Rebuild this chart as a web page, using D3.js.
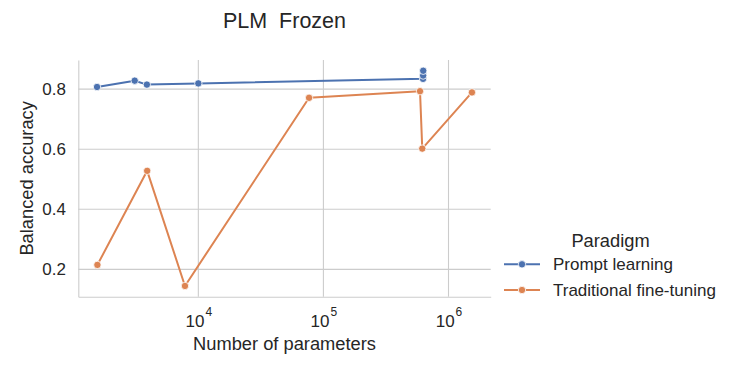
<!DOCTYPE html>
<html>
<head>
<meta charset="utf-8">
<script src="https://cdn.jsdelivr.net/npm/d3@7"></script>
<style>
  body { margin: 0; background: #fff; }
  svg { display: block; font-family: "Liberation Sans", Arial, sans-serif; }
</style>
</head>
<body>
<svg id="chart" width="747" height="374"></svg>
<script>
// ---- data ----
const seriesNames = ["Prompt learning", "Traditional fine-tuning"];
const promptX = [1550, 3100, 3880, 10000, 626000, 627000, 628000];
const promptY = [0.807, 0.828, 0.815, 0.819, 0.834, 0.845, 0.861];
const tradX = [1560, 3900, 7820, 76800, 592000, 617000, 1540000];
const tradY = [0.215, 0.528, 0.145, 0.771, 0.793, 0.602, 0.789];
const xTicks = [1e4, 1e5, 1e6];
const yTicks = [0.2, 0.4, 0.6, 0.8];
const colors = ["#4c72b0", "#dd8452"];
const titleText = "PLM  Frozen";
const xLabel = "Number of parameters";
const yLabel = "Balanced accuracy";
const legendTitle = "Paradigm";

const series = [
  { name: seriesNames[0], pts: promptX.map((x, i) => ({ x, y: promptY[i] })), color: colors[0] },
  { name: seriesNames[1], pts: tradX.map((x, i) => ({ x, y: tradY[i] })), color: colors[1] }
];

const svg = d3.select("#chart");
const L = 78.3, R = 490.7, T = 60, B = 296.7;

const allX = promptX.concat(tradX).map(Math.log10);
const allY = promptY.concat(tradY);
const lx0 = d3.min(allX), lx1 = d3.max(allX), px = (lx1 - lx0) * 0.05;
const y0 = d3.min(allY), y1 = d3.max(allY), py = (y1 - y0) * 0.05;

const x = d3.scaleLog().domain([Math.pow(10, lx0 - px), Math.pow(10, lx1 + px)]).range([L, R]);
const y = d3.scaleLinear().domain([y0 - py, y1 + py]).range([B, T]);

// grid
const grid = svg.append("g");
grid.selectAll(".gx").data(xTicks).join("line")
  .attr("x1", d => x(d)).attr("x2", d => x(d)).attr("y1", T).attr("y2", B)
  .attr("stroke", "#cccccc").attr("stroke-width", 1.1);
grid.selectAll(".gy").data(yTicks).join("line")
  .attr("x1", L).attr("x2", R).attr("y1", d => y(d)).attr("y2", d => y(d))
  .attr("stroke", "#cccccc").attr("stroke-width", 1.1);

// axes
const yAxis = svg.append("g").attr("transform", `translate(${L},0)`)
  .call(d3.axisLeft(y).tickValues(yTicks).tickFormat(d3.format(".1f")).tickSize(0).tickPadding(12.3));
yAxis.select(".domain").attr("stroke", "#cccccc").attr("stroke-width", 1.1);
yAxis.selectAll("text").attr("font-size", 17).attr("fill", "#262626").attr("font-family", "Liberation Sans, Arial, sans-serif");

const xAxis = svg.append("g").attr("transform", `translate(0,${B})`)
  .call(d3.axisBottom(x).tickValues(xTicks).tickFormat(() => "").tickSize(0));
xAxis.select(".domain").attr("stroke", "#cccccc").attr("stroke-width", 1.1);
xAxis.selectAll(".tick text").each(function (d) {
  const t = d3.select(this).attr("dy", null).attr("y", 30.6)
    .attr("font-size", 17).attr("fill", "#262626").attr("font-family", "Liberation Sans, Arial, sans-serif")
    .attr("text-anchor", "middle");
  t.text(null);
  t.append("tspan").text("10");
  t.append("tspan").attr("dx", 1).attr("dy", -11).attr("font-size", 12).text(String(Math.round(Math.log10(d))));
});

// lines and markers
const line = d3.line().x(d => x(d.x)).y(d => y(d.y));
series.forEach(s => {
  svg.append("path").datum(s.pts).attr("d", line)
    .attr("fill", "none").attr("stroke", s.color).attr("stroke-width", 2)
    .attr("stroke-linejoin", "round").attr("stroke-linecap", "round");
});
series.forEach(s => {
  svg.append("g").selectAll("circle").data(s.pts).join("circle")
    .attr("cx", d => x(d.x)).attr("cy", d => y(d.y)).attr("r", 3.7)
    .attr("fill", s.color).attr("stroke", "#fff").attr("stroke-width", 0.8);
});

// title and labels
svg.append("text").attr("x", (L + R) / 2).attr("y", 28).attr("text-anchor", "middle")
  .attr("font-size", 21.5).attr("fill", "#262626").style("white-space", "pre").text(titleText);
svg.append("text").attr("x", (L + R) / 2).attr("y", 350).attr("text-anchor", "middle")
  .attr("font-size", 18.3).attr("fill", "#262626").text(xLabel);
svg.append("text").attr("transform", `translate(33,${(T + B) / 2}) rotate(-90)`).attr("text-anchor", "middle")
  .attr("font-size", 18.3).attr("fill", "#262626").text(yLabel);

// legend
const lg = svg.append("g");
lg.append("text").attr("x", 610.5).attr("y", 246.7).attr("text-anchor", "middle")
  .attr("font-size", 18.3).attr("fill", "#262626").text(legendTitle);
const legY = [264.3, 290];
series.forEach((s, i) => {
  lg.append("line").attr("x1", 504).attr("x2", 540).attr("y1", legY[i]).attr("y2", legY[i])
    .attr("stroke", s.color).attr("stroke-width", 2);
  lg.append("circle").attr("cx", 522).attr("cy", legY[i]).attr("r", 3.7)
    .attr("fill", s.color).attr("stroke", "#fff").attr("stroke-width", 0.8);
  lg.append("text").attr("x", 553).attr("y", legY[i]).attr("dy", "0.35em")
    .attr("font-size", 17).attr("fill", "#262626").text(s.name);
});
</script>
</body>
</html>
